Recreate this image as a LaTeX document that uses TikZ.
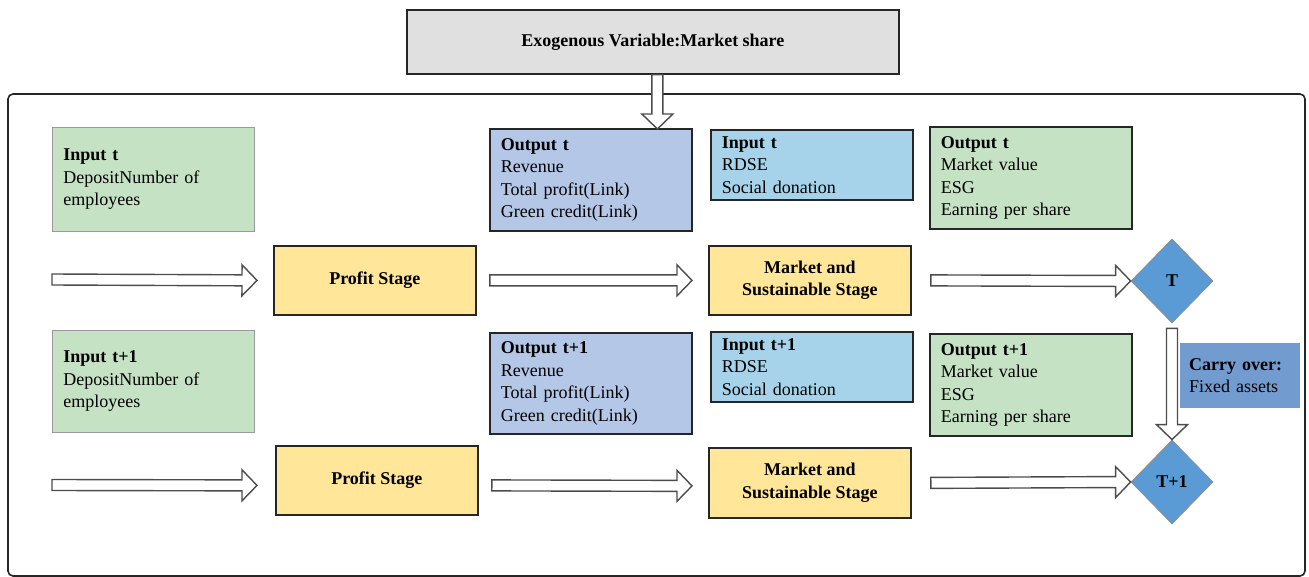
\documentclass[tikz,border=0pt]{standalone}
\usepackage{fontspec}
\setmainfont{Liberation Serif}
\usetikzlibrary{shapes.geometric,calc}

\definecolor{exogray}{RGB}{224,224,224}
\definecolor{boxgreen}{RGB}{198,226,196}
\definecolor{lavender}{RGB}{180,199,231}
\definecolor{skyblue}{RGB}{166,211,234}
\definecolor{stageyellow}{RGB}{255,230,153}
\definecolor{diamondblue}{RGB}{91,155,213}
\definecolor{carryblue}{RGB}{114,155,207}

\tikzset{
	txt/.style={font=\fontsize{18}{22.5}\selectfont},
	infobox/.style={txt, anchor=north west, draw=black!85, line width=1.8pt, inner sep=0pt, inner xsep=11pt, text width=180pt, align=left},
	ingreen/.style={infobox, fill=boxgreen, draw=black!40, line width=0.9pt},
	outlav/.style={infobox, fill=lavender},
	inblue/.style={infobox, fill=skyblue},
	outgreen/.style={infobox, fill=boxgreen},
	stagebox/.style={font=\fontsize{18}{22.5}\selectfont\bfseries, anchor=north west, draw=black!85, line width=1.8pt, fill=stageyellow, minimum width=202pt, minimum height=69pt, align=center},
	exobox/.style={font=\fontsize{18}{22.5}\selectfont\bfseries, anchor=north west, draw=black!85, line width=1.8pt, fill=exogray, minimum width=492pt, minimum height=64pt},
	decision/.style={diamond, aspect=1, font=\fontsize{18}{22.5}\selectfont\bfseries, draw=black!45, line width=0.8pt, fill=diamondblue, inner sep=0pt, minimum width=82pt, minimum height=84pt},
	carrybox/.style={txt, anchor=north west, fill=carryblue, inner sep=0pt, inner xsep=9pt, text width=102pt, minimum height=65pt, align=left},
	frame/.style={draw=black!85, line width=1.6pt, rounded corners=5pt},
	hollow/.style={draw=black!70, line width=1.4pt, fill=white}
}

% block arrow with open head, from #1 to #2
\newcommand{\hollowarrow}[2]{%
	\path (#1) coordinate (ha-s) (#2) coordinate (ha-e);
	\path ($(ha-e)!15pt!(ha-s)$) coordinate (ha-b);
	\draw[hollow] ($(ha-s)!5.5pt!90:(ha-e)$) -- ($(ha-b)!5.5pt!90:(ha-e)$)
		-- ($(ha-b)!15.5pt!90:(ha-e)$) -- (ha-e)
		-- ($(ha-b)!15.5pt!-90:(ha-e)$) -- ($(ha-b)!5.5pt!-90:(ha-e)$)
		-- ($(ha-s)!5.5pt!-90:(ha-e)$) -- cycle;}

\begin{document}
\begin{tikzpicture}[x=1pt, y=-1pt]
	\useasboundingbox (0,0) rectangle (1309,577);
	%outer frame
	\draw[frame] (8,94) rectangle (1305,576);

	\node[exobox] (exo) at (406,9) {Exogenous Variable:Market share};

	%period t
	\node[ingreen, minimum height=104pt] (in1) at (52,127) {\textbf{Input t}\\DepositNumber of\\employees};
	\node[outlav, minimum height=102pt] (out1) at (489,128) {\textbf{Output t}\\Revenue\\Total profit(Link)\\Green credit(Link)};
	\node[inblue, minimum height=70pt] (rin1) at (710,129) {\textbf{Input t}\\RDSE\\Social donation};
	\node[outgreen, minimum height=102pt] (mout1) at (929,126) {\textbf{Output t}\\Market value\\ESG\\Earning per share};
	\node[stagebox] (prof1) at (273,245) {Profit Stage};
	\node[stagebox] (mkt1) at (708,245) {Market and\\Sustainable Stage};
	\node[decision] (T) at (1172,281) {T};

	%period t+1
	\node[ingreen, minimum height=102pt] (in2) at (52,330) {\textbf{Input t+1}\\DepositNumber of\\employees};
	\node[outlav, minimum height=101pt] (out2) at (489,332) {\textbf{Output t+1}\\Revenue\\Total profit(Link)\\Green credit(Link)};
	\node[inblue, minimum height=70pt] (rin2) at (710,331) {\textbf{Input t+1}\\RDSE\\Social donation};
	\node[outgreen, minimum height=102pt] (mout2) at (929,333) {\textbf{Output t+1}\\Market value\\ESG\\Earning per share};
	\node[stagebox] (prof2) at (275,445) {Profit Stage};
	\node[stagebox, minimum height=70pt] (mkt2) at (708,447) {Market and\\Sustainable Stage};
	\node[decision] (T1) at (1172,482) {T+1};

	\node[carrybox] (carry) at (1180,343) {\textbf{Carry over:}\\Fixed assets};

	%arrows
	\coordinate (start1) at (52,279.5);
	\coordinate (start2) at (52,485);
	\hollowarrow{$(exo.south)+(4.5,0)$}{$(exo.south |- out1.north)+(4.5,1)$}
	\hollowarrow{start1}{$(prof1.west)+(-16,0)$}
	\hollowarrow{$(prof1.east)+(13,0)$}{$(mkt1.west)+(-16,0)$}
	\hollowarrow{$(mkt1.east)+(19,0)$}{T.west}
	\hollowarrow{start2}{$(prof2.west)+(-18,5)$}
	\hollowarrow{$(prof2.east)+(13,5)$}{$(mkt2.west)+(-16,3)$}
	\hollowarrow{$(mkt2.east)+(19,0)$}{T1.west}
	\hollowarrow{$(T.south)+(0,5)$}{T1.north}
\end{tikzpicture}
\end{document}
